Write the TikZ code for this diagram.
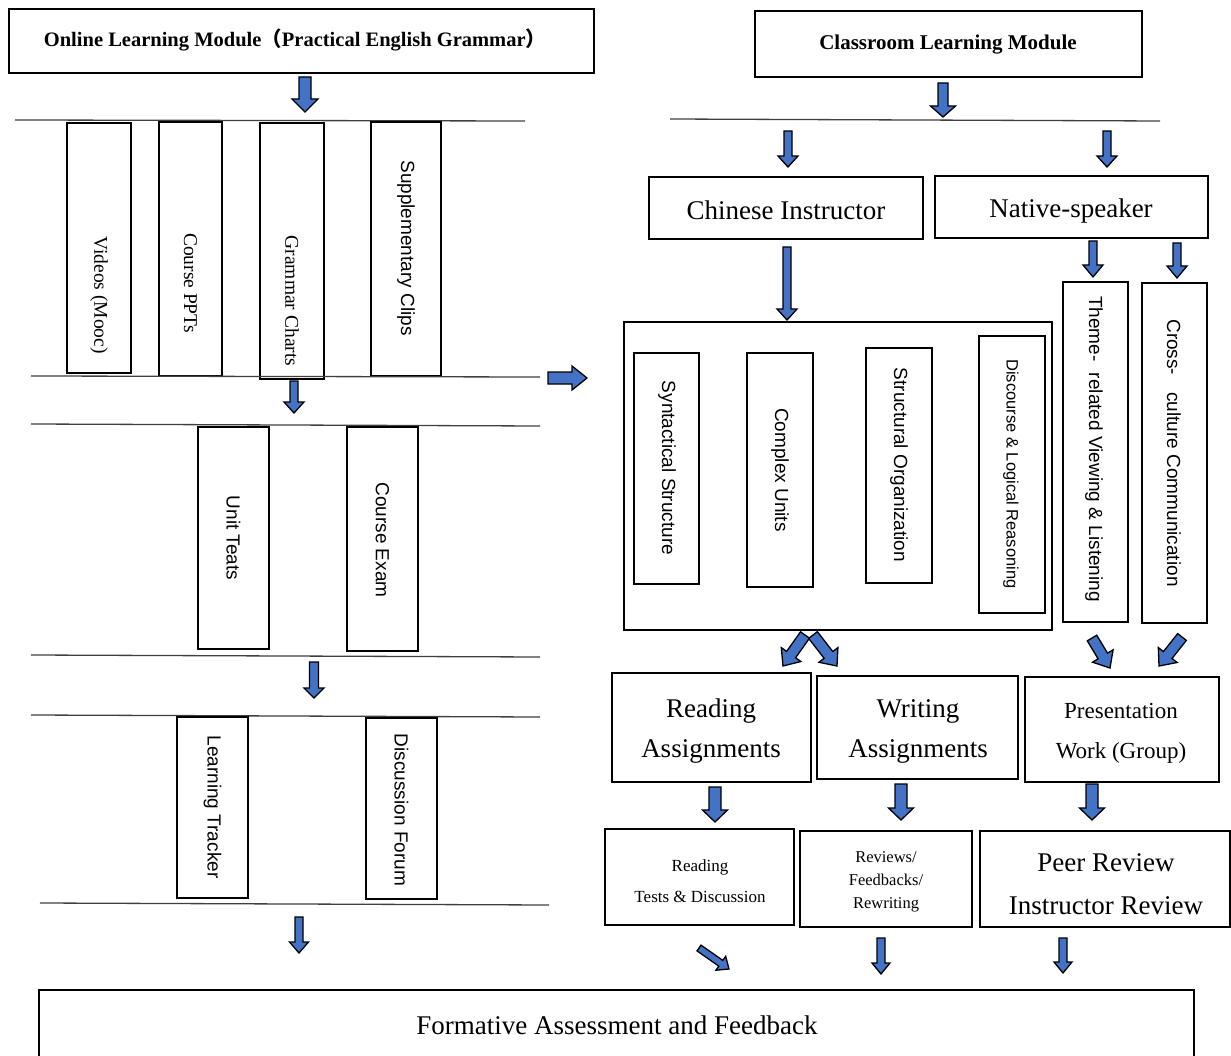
\documentclass[tikz,border=0pt]{standalone}
\usepackage{fontspec}
\setmainfont{Liberation Serif}
\setsansfont{Liberation Sans}
\newfontfamily\cjk{Noto Sans CJK SC}
\usetikzlibrary{calc}
\definecolor{ablue}{RGB}{68,114,196}
\tikzset{
  box/.style={draw=black, line width=2.2pt, rectangle, inner sep=0pt},
  sepline/.style={draw=black!75, line width=1.3pt},
  barr/.style={draw=black, fill=ablue, line width=1.3pt, line join=miter},
  lbl/.style={inner sep=0pt, align=center},
  vsans/.style={inner sep=0pt, rotate=-90, font=\sffamily\fontsize{19}{22}\selectfont},
  vserif/.style={inner sep=0pt, rotate=-90, font=\fontsize{19.5}{22}\selectfont},
}
% box node from corner coordinates (pixels, y down)
\newcommand{\boxnode}[5]{%
  \node[box, minimum width={#4-#2}, minimum height={#5-#3}] (#1) at ({(#2+#4)/2},{(#3+#5)/2}) {};}
% block arrow: from, to, half shaft, half head, head length
\newcommand{\blockarrow}[5]{%
  \filldraw[barr] let \p1=#1, \p2=#2,
    \n1={atan2(\y2-\y1,\x2-\x1)},
    \n2={veclen(\x2-\x1,\y2-\y1)-#5} in
    ($(\p1)+({\n1+90}:#3pt)$) --
    ($(\p1)+({\n1+90}:#3pt)+({\n1}:{\n2*1pt})$) --
    ($(\p1)+({\n1+90}:#4pt)+({\n1}:{\n2*1pt})$) --
    (\p2) --
    ($(\p1)+({\n1-90}:#4pt)+({\n1}:{\n2*1pt})$) --
    ($(\p1)+({\n1-90}:#3pt)+({\n1}:{\n2*1pt})$) --
    ($(\p1)+({\n1-90}:#3pt)$) -- cycle;}
\begin{document}
\begin{tikzpicture}[x=1pt,y=-1pt]
\useasboundingbox (0,0) rectangle (1231,1056);
\fill[white] (0,0) rectangle (1231,1056);

% ---------------- Left: online module ----------------
\boxnode{olm}{9}{9}{594}{73}
\node[lbl, font=\bfseries\fontsize{20.5}{24}\selectfont] (olmt) at (295,40)
  {Online Learning Module{\cjk（}Practical English Grammar{\cjk）}};
\blockarrow{(305,77)}{(305,112)}{6}{13}{13}

\draw[sepline] (15,120) -- (525,121);
\boxnode{vid}{67}{123}{131}{373}
\boxnode{ppt}{159}{122}{222}{376}
\boxnode{gram}{260}{123}{324}{379}
\boxnode{supp}{371}{122}{441}{376}
\node[vserif] (vidt) at (99,295) {Videos (Mooc)};
\node[vserif] (pptt) at (190.5,283) {Course PPTs};
\node[vserif] (gramt) at (292,301) {Grammar Charts};
\node[vsans] (suppt) at (406,248) {Supplementary Clips};
\draw[sepline] (31,376) -- (540,377);
\blockarrow{(294,381)}{(294,413)}{4}{10}{11}
\blockarrow{(548,378)}{(587,378)}{6}{12}{15}

\draw[sepline] (31,424) -- (540,426);
\boxnode{unit}{198}{427}{269}{649}
\boxnode{exam}{347}{427}{418}{651}
\node[vsans] (unitt) at (233.5,538) {Unit Teats};
\node[vsans] (examt) at (382.5,540) {Course Exam};
\draw[sepline] (31,655) -- (540,657);
\blockarrow{(314,662)}{(314,698)}{4.5}{10}{10}

\draw[sepline] (31,715) -- (540,717);
\boxnode{track}{177}{717}{248}{898}
\boxnode{forum}{366}{718}{437}{899}
\node[vsans] (trackt) at (212.5,807) {Learning Tracker};
\node[vsans] (forumt) at (401.5,810) {Discussion Forum};
\draw[sepline] (40,903) -- (549,905);
\blockarrow{(299,917)}{(299,953)}{4}{9.5}{11}

% ---------------- Right: classroom module ----------------
\boxnode{clm}{755}{11}{1142}{77}
\node[lbl, font=\bfseries\fontsize{21}{24}\selectfont] (clmt) at (948,45) {Classroom Learning Module};
\blockarrow{(943,83)}{(943,117)}{5}{12.5}{11}
\draw[sepline] (670,119) -- (1160,121);
\blockarrow{(788,131)}{(788,167)}{4}{10}{11}
\blockarrow{(1107,131)}{(1107,167)}{4}{10}{11}

\boxnode{chin}{649}{177}{923}{239}
\node[lbl, font=\fontsize{27}{30}\selectfont] (chint) at (786,210) {Chinese Instructor};
\boxnode{nat}{935}{176}{1208}{238}
\node[lbl, font=\fontsize{27}{30}\selectfont] (natt) at (1071,211) {Native-speaker};
\blockarrow{(787,247)}{(787,320)}{4}{10}{11}
\blockarrow{(1093,241)}{(1093,277)}{4}{10}{12}
\blockarrow{(1177,243)}{(1177,278)}{4}{10}{12}

\boxnode{big}{624}{322}{1052}{630}
\boxnode{syn}{634}{353}{699}{584}
\boxnode{cpx}{747}{353}{813}{587}
\boxnode{str}{866}{348}{932}{583}
\boxnode{dis}{979}{336}{1045}{613}
\node[vsans] (synt) at (667,468) {Syntactical Structure};
\node[vsans] (cpxt) at (780,470) {Complex Units};
\node[vsans] (strt) at (899,465) {Structural Organization};
\node[vsans, font=\sffamily\fontsize{16.5}{20}\selectfont] (dist) at (1011,474) {Discourse \& Logical Reasoning};
\boxnode{thm}{1063}{282}{1128}{622}
\boxnode{crs}{1142}{283}{1207}{623}
\node[vsans] (thmt) at (1094,449) {Theme-\hspace{0.6em}related Viewing \& Listening};
\node[vsans] (crst) at (1174,453) {Cross-\hspace{0.9em}culture Communication};

\blockarrow{(805,635)}{(783,666)}{5.5}{12}{14}
\blockarrow{(813,635)}{(837,666)}{5.5}{12}{14}
\blockarrow{(1092,638)}{(1110,668)}{5.5}{12}{14}
\blockarrow{(1182,637)}{(1159,666)}{5.5}{12}{14}

\boxnode{ra}{612}{673}{811}{782}
\node[lbl, font=\fontsize{27}{40}\selectfont] (rat) at (711,731) {Reading\\Assignments};
\boxnode{wa}{817}{676}{1018}{779}
\node[lbl, font=\fontsize{27}{40}\selectfont] (wat) at (918,731) {Writing\\Assignments};
\boxnode{pw}{1025}{677}{1219}{782}
\node[lbl, font=\fontsize{23}{40}\selectfont] (pwt) at (1121,733) {Presentation\\Work (Group)};

\blockarrow{(715,787)}{(715,822)}{6}{12.5}{12}
\blockarrow{(901,784)}{(901,820)}{6}{12.5}{12}
\blockarrow{(1092,784)}{(1092,820)}{6}{12.5}{12}

\boxnode{rt}{605}{829}{794}{925}
\node[lbl, font=\fontsize{17}{31}\selectfont] (rtt) at (700,881) {Reading\\Tests \& Discussion};
\boxnode{rv}{800}{831}{972}{927}
\node[lbl, font=\fontsize{16.5}{23}\selectfont] (rvt) at (886,882) {Reviews/\\Feedbacks/\\Rewriting};
\boxnode{pr}{980}{831}{1230}{927}
\node[lbl, font=\fontsize{27}{43}\selectfont] (prt) at (1106,884) {Peer Review\\Instructor Review};

\blockarrow{(699,948)}{(729,969)}{3.5}{8.5}{10}
\blockarrow{(881,938)}{(881,974)}{4}{9}{11}
\blockarrow{(1063,938)}{(1063,973)}{4}{9}{11}

% ---------------- Bottom ----------------
\node[box, minimum width=1155, minimum height=80] (fa) at (616.5,1030) {};
\node[lbl, font=\fontsize{27}{30}\selectfont] (fat) at (617,1025) {Formative Assessment and Feedback};
\end{tikzpicture}
\end{document}
